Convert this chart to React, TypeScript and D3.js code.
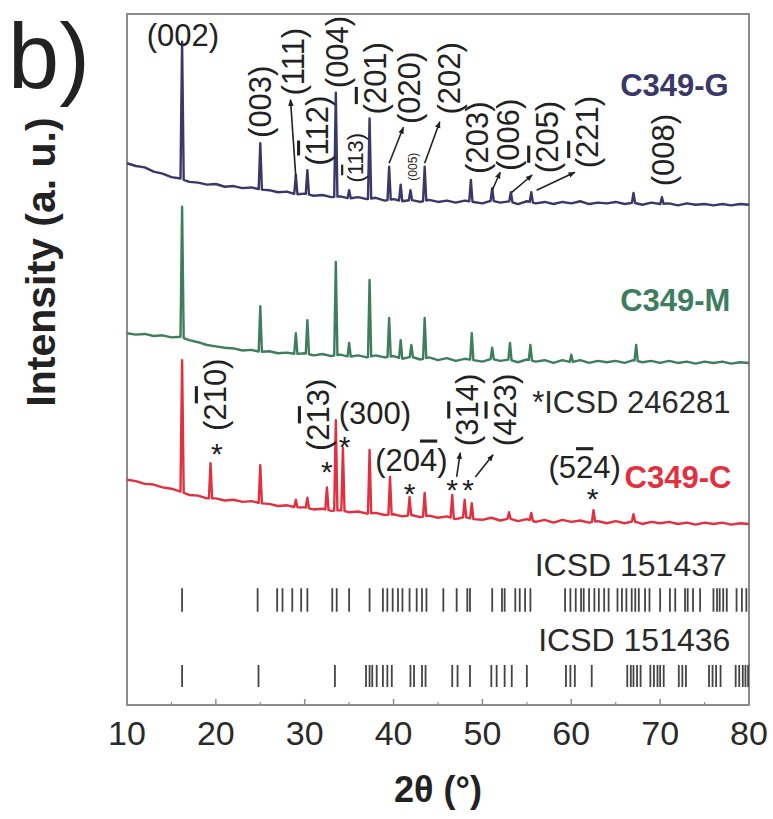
import React from "react";
import * as d3 from "d3";

// sample angles for the backgrounds (2θ, degrees)
const gridAngles = [
  10, 11, 12, 13, 14, 15, 16, 17, 18, 19, 20, 21, 22, 23, 24, 25, 26, 27, 28, 29,
  30, 31, 32, 33, 34, 35, 36, 37, 38, 39, 40, 41, 42, 43, 44, 45, 46, 47, 48, 49,
  50, 51, 52, 53, 54, 55, 56, 57, 58, 59, 60, 61, 62, 63, 64, 65, 66, 67, 68, 69,
  70, 71, 72, 73, 74, 75, 76, 77, 78, 79, 80,
];

// background intensity (a.u., offset stacked) at gridAngles
const gBase = [
  78.4, 78.0, 77.8, 77.2, 76.9, 76.4, 76.2, 75.7, 75.6, 75.3, 75.4, 75.0, 75.1, 74.8, 74.9, 74.6, 74.5, 74.2, 74.3, 73.9,
  74.0, 73.7, 73.8, 73.5, 73.6, 73.3, 73.5, 73.2, 73.4, 73.0, 73.2, 72.9, 73.1, 72.8, 73.1, 72.8, 73.0, 72.7, 73.0, 72.8,
  72.6, 73.0, 72.7, 72.9, 72.5, 72.9, 72.6, 72.8, 72.5, 72.8, 72.6, 72.9, 72.5, 72.7, 72.6, 72.8, 72.5, 72.7, 72.4, 72.7,
  72.5, 72.6, 72.3, 72.6, 72.4, 72.5, 72.3, 72.5, 72.3, 72.5, 72.4,
];
const mBase = [
  53.8, 53.6, 53.7, 53.4, 53.5, 53.2, 53.3, 52.8, 52.5, 52.1, 51.9, 51.7, 51.6, 51.3, 51.4, 51.1, 51.2, 50.9, 51.0, 50.8,
  50.9, 50.6, 50.8, 50.5, 50.7, 50.4, 50.6, 50.3, 50.6, 50.3, 50.5, 50.1, 50.4, 50.0, 50.3, 49.9, 50.2, 49.8, 50.1, 49.9,
  49.7, 50.1, 49.8, 50.0, 49.6, 50.0, 49.7, 49.9, 49.5, 49.9, 49.6, 49.9, 49.5, 49.8, 49.6, 49.8, 49.5, 49.9, 49.6, 49.8,
  49.5, 49.8, 49.5, 49.7, 49.4, 49.7, 49.5, 49.7, 49.4, 49.6, 49.5,
];
const cBase = [
  32.6, 32.4, 32.0, 31.9, 31.5, 31.3, 30.9, 30.4, 30.3, 29.9, 29.9, 29.6, 29.7, 29.4, 29.5, 29.2, 29.1, 28.8, 28.9, 28.6,
  28.6, 28.3, 28.4, 28.1, 28.2, 27.9, 28.0, 27.7, 27.8, 27.5, 27.6, 27.3, 27.5, 27.2, 27.4, 27.1, 27.3, 26.9, 27.2, 26.9,
  26.8, 27.1, 26.7, 27.0, 26.6, 26.9, 26.5, 26.8, 26.4, 26.8, 26.5, 26.7, 26.4, 26.6, 26.3, 26.6, 26.3, 26.6, 26.2, 26.5,
  26.3, 26.5, 26.2, 26.4, 26.1, 26.4, 26.2, 26.4, 26.1, 26.3, 26.2,
];

// reflections: [2θ, peak top]
const gPeaks: [number, number][] = [
  [16.2, 96], [25.0, 81.3], [29.0, 76.7], [30.3, 77.4], [33.5, 88.6], [35.0, 74.5],
  [37.3, 84.9], [39.5, 77.9], [40.8, 75.3], [41.9, 74.5], [43.5, 77.9], [48.7, 76.0],
  [51.1, 74.8], [53.2, 74.2], [55.5, 74.2], [67.0, 74.1], [70.2, 73.5],
];
const mPeaks: [number, number][] = [
  [16.2, 72.1], [25.0, 57.7], [29.0, 53.8], [30.3, 55.7], [33.5, 64.1], [35.0, 52.4],
  [37.3, 61.5], [39.5, 56.0], [40.8, 52.8], [42.0, 52.1], [43.5, 56.0], [48.8, 53.8],
  [51.1, 51.7], [53.1, 52.4], [55.4, 52.1], [60.0, 50.7], [67.3, 52.1],
];
const cPeaks: [number, number][] = [
  [16.2, 49.9], [19.4, 35.0], [25.0, 34.7], [29.0, 29.7], [30.3, 30.0], [32.5, 31.5],
  [33.5, 41.2], [34.3, 37.2], [37.3, 36.9], [39.6, 33.0], [41.8, 30.1], [43.5, 30.7],
  [46.6, 30.4], [48.0, 29.7], [48.8, 29.2], [53.0, 27.9], [55.5, 27.8], [62.5, 28.2],
  [67.0, 27.6],
];

// reference patterns (stick positions, 2θ)
const icsd151437 = [
  16.2, 24.7, 26.9, 27.5, 28.6, 29.6, 30.3, 33.1, 33.6, 35.0, 37.3, 38.8, 39.3, 39.9, 40.5,
  41.0, 41.8, 42.6, 43.2, 43.7, 45.6, 47.1, 48.3, 48.6, 51.1, 52.2, 52.5, 53.7, 54.2, 54.8,
  55.4, 59.3, 59.9, 60.5, 61.1, 61.4, 62.0, 62.6, 63.1, 63.7, 64.2, 65.2, 65.7, 66.2, 66.8,
  67.2, 67.6, 68.3, 68.8, 70.0, 71.1, 71.7, 72.8, 73.1, 73.7, 74.5, 76.0, 76.4, 76.7, 77.1,
  77.5, 78.6, 79.2, 79.7,
];
const icsd151436 = [
  16.2, 24.8, 33.4, 36.9, 37.3, 37.6, 38.1, 38.8, 39.3, 39.8, 41.9, 42.3, 43.2, 43.6, 46.6,
  47.2, 48.6, 51.0, 51.6, 52.5, 53.3, 55.0, 59.4, 59.9, 60.4, 62.3, 66.3, 66.7, 67.0, 67.4,
  67.8, 68.9, 69.3, 69.7, 70.0, 70.4, 72.1, 72.5, 72.9, 75.5, 75.9, 76.3, 76.8, 78.5, 78.9,
  79.3, 79.6, 79.9,
];
const row1Span: [number, number] = [13.5, 16.9];
const row2Span: [number, number] = [2.6, 5.8];

// hkl labels: [text ("~" = bar over next digit), 2θ, intensity, rotated, size]
const hklLabels: [string, number, number, boolean, number][] = [
  ["(002)", 16.3, 97.0, false, 31],
  ["(003)", 25.0, 87.3, true, 31],
  ["(111)", 28.7, 93.1, true, 31],
  ["(~112)", 31.4, 83.1, true, 31],
  ["(004)", 33.6, 94.5, true, 31],
  ["(~113)", 35.7, 79.2, true, 22],
  ["(~201)", 37.9, 90.7, true, 31],
  ["(020)", 41.8, 89.3, true, 31],
  ["(005)", 42.2, 77.9, true, 12],
  ["(202)", 46.3, 90.7, true, 31],
  ["(203)", 49.4, 82.1, true, 31],
  ["(006)", 52.9, 82.5, true, 31],
  ["(~205)", 57.3, 82.2, true, 31],
  ["(~221)", 61.8, 82.9, true, 31],
  ["(008)", 70.3, 80.3, true, 31],
  ["(2~10)", 19.9, 44.9, true, 31],
  ["(2~13)", 31.5, 42.0, true, 31],
  ["(300)", 37.9, 42.3, false, 31],
  ["(20~4)", 42.0, 35.5, false, 31],
  ["(3~14)", 48.3, 42.7, true, 31],
  ["(4~23)", 52.5, 42.7, true, 31],
  ["(5~24)", 61.5, 34.4, false, 31],
];

// arrows: [from 2θ, from I, to 2θ, to I]
const arrows: [number, number, number, number][] = [
  [29.0, 76.4, 28.4, 87.6],
  [39.5, 78.4, 41.1, 83.6],
  [43.5, 78.4, 45.2, 84.4],
  [51.1, 74.5, 52.0, 77.1],
  [53.3, 74.2, 55.6, 76.7],
  [56.1, 74.5, 60.4, 77.1],
  [47.1, 33.0, 47.5, 36.5],
  [49.2, 33.0, 51.2, 36.2],
];

// ICSD 246281 markers
const stars: [number, number][] = [
  [20.1, 37.3], [32.5, 34.7], [34.5, 38.3], [41.8, 31.5], [46.6, 32.1], [48.4, 32.1], [62.4, 30.8],
];

const sampleNames = ["C349-G", "C349-M", "C349-C"];
const sampleColors = ["#3a3868", "#3f7d5f", "#e2303f"];
const nameAnchors: [number, number][] = [[65.5, 89.7], [65.5, 58.6], [66.0, 33.0]];
const xTicks = [10, 20, 30, 40, 50, 60, 70, 80];

const W = 773, H = 819;
const m = { left: 127, right: 749, top: 14, bottom: 705 };
const FONT = "'Liberation Sans', Arial, sans-serif";

const x = d3.scaleLinear().domain([10, 80]).range([m.left, m.right]);
const y = d3.scaleLinear().domain([0, 100]).range([m.bottom, m.top]);

function trace(base: number[], peaks: [number, number][]) {
  const bg = d3.scaleLinear<number>().domain(gridAngles).range(base);
  const w = 0.18;
  const pts: [number, number][] = gridAngles
    .map((a, i) => [a, base[i]] as [number, number])
    .filter(([a]) => !peaks.some(([p]) => Math.abs(a - p) <= w + 0.05));
  peaks.forEach(([p, h]) => {
    pts.push([p - w, bg(p - w)], [p, h], [p + w, bg(p + w)]);
  });
  pts.sort((a, b) => a[0] - b[0]);
  return d3.line<[number, number]>().x(d => x(d[0])).y(d => y(d[1]))(pts) || "";
}

// split "(2~10)" into tspans, the one after "~" overlined
function hkl(t: string) {
  const out: React.ReactNode[] = [];
  let i = 0, k = 0;
  while (i < t.length) {
    if (t[i] === "~") {
      out.push(<tspan key={k++} style={{ textDecoration: "overline" }}>{t[i + 1]}</tspan>);
      i += 2;
    } else {
      let j = i;
      while (j < t.length && t[j] !== "~") j++;
      out.push(<tspan key={k++}>{t.slice(i, j)}</tspan>);
      i = j;
    }
  }
  return out;
}

export default function App() {
  const traces = [trace(gBase, gPeaks), trace(mBase, mPeaks), trace(cBase, cPeaks)];
  const minor = d3.range(15, 80, 10);

  return (
    <svg width={W} height={H} style={{ position: "absolute", left: 0, top: 0, background: "#fff" }}
      fontFamily={FONT}>
      <defs>
        <marker id="ah" viewBox="0 0 10 10" refX="9" refY="5" markerWidth="7" markerHeight="7"
          orient="auto-start-reverse" markerUnits="userSpaceOnUse">
          <path d="M0,1 L10,5 L0,9 z" fill="#222" />
        </marker>
      </defs>

      <text x={8} y={88} fontSize={92} fill="#222">b)</text>

      <rect x={m.left} y={m.top} width={m.right - m.left} height={m.bottom - m.top}
        fill="none" stroke="#8c8c8c" strokeWidth={2} />

      {xTicks.map(t => (
        <g key={t}>
          <line x1={x(t)} x2={x(t)} y1={m.bottom} y2={m.bottom - 6} stroke="#8c8c8c" strokeWidth={1.5} />
          <text x={x(t)} y={m.bottom + 40} textAnchor="middle" fontSize={34} fill="#2a2a2a">{t}</text>
        </g>
      ))}
      {minor.map(t => (
        <line key={t} x1={x(t)} x2={x(t)} y1={m.bottom} y2={m.bottom - 3} stroke="#8c8c8c" strokeWidth={1.2} />
      ))}

      <text x={(m.left + m.right) / 2} y={802} textAnchor="middle" fontSize={36} fontWeight="bold" fill="#222">
        2θ (°)
      </text>
      <text transform={`translate(55,262) rotate(-90)`} textAnchor="middle" fontSize={41}
        fontWeight="bold" fill="#222">
        Intensity (a. u.)
      </text>

      {traces.map((d, i) => (
        <path key={i} d={d} fill="none" stroke={sampleColors[i]} strokeWidth={2.4}
          strokeLinejoin="round" />
      ))}

      {icsd151437.map((a, i) => (
        <line key={"r1" + i} x1={x(a)} x2={x(a)} y1={y(row1Span[0])} y2={y(row1Span[1])}
          stroke="#444" strokeWidth={1.8} />
      ))}
      {icsd151436.map((a, i) => (
        <line key={"r2" + i} x1={x(a)} x2={x(a)} y1={y(row2Span[0])} y2={y(row2Span[1])}
          stroke="#444" strokeWidth={1.8} />
      ))}
      <text x={x(77.5)} y={y(20.3)} dy="0.35em" textAnchor="end" fontSize={32} fill="#2a2a2a">ICSD 151437</text>
      <text x={x(77.9)} y={y(9.4)} dy="0.35em" textAnchor="end" fontSize={32} fill="#2a2a2a">ICSD 151436</text>

      {hklLabels.map(([t, a, v, rot, fs], i) =>
        rot ? (
          <text key={"h" + i} transform={`translate(${x(a)},${y(v)}) rotate(-90)`} textAnchor="middle"
            dy="0.35em" fontSize={fs} fill="#222">{hkl(t)}</text>
        ) : (
          <text key={"h" + i} x={x(a)} y={y(v)} dy="0.35em" textAnchor="middle" fontSize={fs} fill="#222">{hkl(t)}</text>
        )
      )}

      {arrows.map(([a1, v1, a2, v2], i) => (
        <line key={"a" + i} x1={x(a1)} y1={y(v1)} x2={x(a2)} y2={y(v2)} stroke="#222"
          strokeWidth={1.6} markerEnd="url(#ah)" />
      ))}

      {stars.map(([a, v], i) => (
        <text key={"s" + i} x={x(a)} y={y(v)} dy={17} textAnchor="middle" fontSize={30} fill="#222">*</text>
      ))}
      <text x={x(55.6)} y={y(43.8)} dy="0.35em" fontSize={31} fill="#2a2a2a">*ICSD 246281</text>

      {sampleNames.map((n, i) => (
        <text key={n} x={x(nameAnchors[i][0])} y={y(nameAnchors[i][1])} dy="0.35em" fontSize={31}
          fontWeight="bold" fill={sampleColors[i]}>{n}</text>
      ))}
    </svg>
  );
}
